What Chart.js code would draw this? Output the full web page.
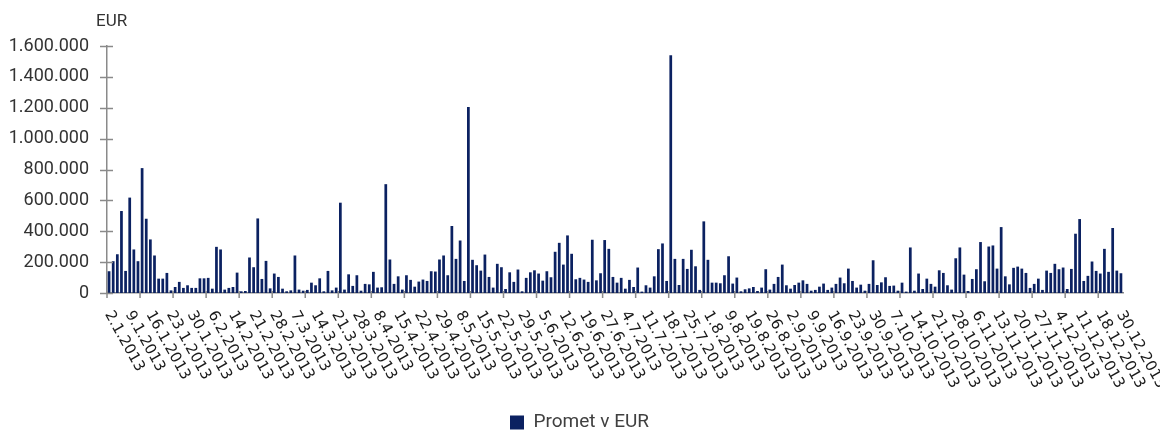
<!DOCTYPE html>
<html>
<head>
<meta charset="utf-8">
<script src="https://cdn.jsdelivr.net/npm/chart.js@4/dist/chart.umd.min.js"></script>
<style>
  html, body { margin: 0; padding: 0; background: #fff; }
  .wrap { width: 1160px; height: 431px; position: relative; }
</style>
</head>
<body>
<div class="wrap"><canvas id="c"></canvas></div>
<script>
// tick labels shown on the x axis, one every 5 trading days
const tickLabels = ['2.1.2013','9.1.2013','16.1.2013','23.1.2013','30.1.2013','6.2.2013','14.2.2013','21.2.2013','28.2.2013','7.3.2013',
  '14.3.2013','21.3.2013','28.3.2013','8.4.2013','15.4.2013','22.4.2013','29.4.2013','8.5.2013','15.5.2013','22.5.2013',
  '29.5.2013','5.6.2013','12.6.2013','19.6.2013','27.6.2013','4.7.2013','11.7.2013','18.7.2013','25.7.2013','1.8.2013',
  '9.8.2013','19.8.2013','26.8.2013','2.9.2013','9.9.2013','16.9.2013','23.9.2013','30.9.2013','7.10.2013','14.10.2013',
  '21.10.2013','28.10.2013','6.11.2013','13.11.2013','20.11.2013','27.11.2013','4.12.2013','11.12.2013','18.12.2013','30.12.2013'];

// daily turnover in EUR (246 trading days)
const promet = [
  141000,206000,251000,531000,143000,618000,282000,206000,809000,481000,347000,243000,93000,93000,130000,17000,39000,72000,33000,50000,
  33000,33000,95000,95000,98000,28000,299000,282000,22000,33000,39000,132000,11000,13000,230000,167000,483000,91000,208000,30000,
  126000,104000,28000,11000,17000,243000,22000,15000,20000,67000,50000,95000,11000,143000,17000,35000,585000,22000,121000,46000,
  115000,15000,59000,56000,137000,35000,37000,705000,217000,59000,108000,22000,115000,85000,41000,74000,87000,78000,141000,139000,
  217000,243000,115000,434000,221000,340000,78000,1205000,215000,180000,145000,249000,104000,35000,189000,167000,26000,134000,72000,152000,
  11000,98000,134000,147000,126000,80000,141000,102000,267000,325000,184000,373000,254000,89000,98000,87000,72000,345000,82000,128000,
  343000,286000,104000,67000,98000,28000,85000,39000,165000,9000,50000,35000,108000,284000,321000,78000,1540000,221000,52000,221000,
  156000,280000,173000,20000,464000,215000,67000,67000,63000,115000,238000,61000,100000,11000,24000,30000,39000,13000,35000,154000,
  22000,59000,104000,184000,50000,28000,52000,67000,82000,59000,15000,20000,41000,61000,20000,35000,59000,100000,63000,158000,
  78000,35000,54000,15000,59000,212000,52000,69000,102000,46000,48000,15000,67000,9000,295000,15000,126000,26000,93000,59000,
  41000,147000,130000,50000,22000,225000,295000,119000,13000,91000,154000,330000,76000,301000,308000,158000,427000,108000,56000,163000,
  171000,158000,130000,33000,59000,93000,20000,145000,130000,189000,154000,165000,26000,156000,384000,479000,78000,111000,204000,143000,
  126000,286000,137000,421000,145000,128000];

// one category per bar, labelled every 5th bar
const categories = promet.map((v, i) => (i % 5 === 0 ? (tickLabels[i / 5] || '') : ''));

const yTicks = [0, 200000, 400000, 600000, 800000, 1000000, 1200000, 1400000, 1600000];

function fmt(n) {
  return String(n).replace(/\B(?=(\d{3})+(?!\d))/g, '.');
}

const decor = {
  id: 'decor',
  afterLayout(chart) {
    // nudge the legend to where the original has it
    const l = chart.legend;
    if (l) { l.top += 11; l.bottom += 11; l.left += 18; l.right += 18; }
  },
  afterDraw(chart) {
    const ctx = chart.ctx;
    const x = chart.scales.x, y = chart.scales.y;
    ctx.save();
    ctx.strokeStyle = '#8a8a8a';
    ctx.lineWidth = 1.5;
    // y tick marks crossing the axis
    yTicks.forEach(v => {
      const py = Math.round(y.getPixelForValue(v)) + 0.5;
      ctx.beginPath(); ctx.moveTo(x.left - 7, py); ctx.lineTo(x.left + 6, py); ctx.stroke();
    });
    // x tick marks every 8 bars
    const step = (x.right - x.left) / categories.length;
    for (let k = 0; k < categories.length; k += 8) {
      const px = x.getPixelForValue(k) - step / 2;
      ctx.beginPath(); ctx.moveTo(px, y.bottom - 2); ctx.lineTo(px, y.bottom + 5); ctx.stroke();
    }
    // rotated date labels
    ctx.fillStyle = '#1a1a1a';
    ctx.font = '15px "DejaVu Sans"';
    ctx.textAlign = 'left';
    ctx.textBaseline = 'middle';
    categories.forEach((c, i) => {
      if (!c) return;
      const px = x.getPixelForValue(i);
      ctx.save();
      ctx.translate(px - 1, y.bottom + 19);
      ctx.rotate(61 * Math.PI / 180);
      ctx.fillText(c, 0, 0);
      ctx.restore();
    });
    // unit label
    ctx.fillStyle = '#333';
    ctx.font = '17px Roboto';
    ctx.textBaseline = 'middle';
    ctx.fillText('EUR', 96, 22);
    ctx.restore();
  }
};

new Chart(document.getElementById('c'), {
  type: 'bar',
  data: {
    labels: categories,
    datasets: [{
      label: 'Promet v EUR',
      data: promet,
      backgroundColor: '#0b2161',
      borderWidth: 0,
      barPercentage: 0.66,
      categoryPercentage: 1.0
    }]
  },
  options: {
    responsive: true,
    maintainAspectRatio: false,
    animation: false,
    layout: { padding: { top: 46, right: 37, left: 0, bottom: 0 } },
    plugins: {
      tooltip: { enabled: false },
      legend: {
        position: 'bottom',
        labels: {
          boxWidth: 14, boxHeight: 14, padding: 0,
          color: '#404040',
          font: { family: 'Roboto', size: 19 }
        }
      }
    },
    scales: {
      x: {
        grid: { display: false },
        border: { display: true, color: '#8a8a8a', width: 1.5 },
        ticks: { display: false },
        afterFit(scale) { scale.height = 109; }
      },
      y: {
        min: 0, max: 1600000,
        afterBuildTicks(scale) { scale.ticks = yTicks.map(v => ({ value: v })); },
        grid: { display: false, drawTicks: false },
        border: { display: true, color: '#8a8a8a', width: 1.5 },
        ticks: {
          padding: 18,
          color: '#333',
          font: { family: 'Roboto', size: 18 },
          callback: v => fmt(v)
        },
        afterFit(scale) { scale.width = 107; }
      }
    }
  },
  plugins: [decor]
});
</script>
</body>
</html>
